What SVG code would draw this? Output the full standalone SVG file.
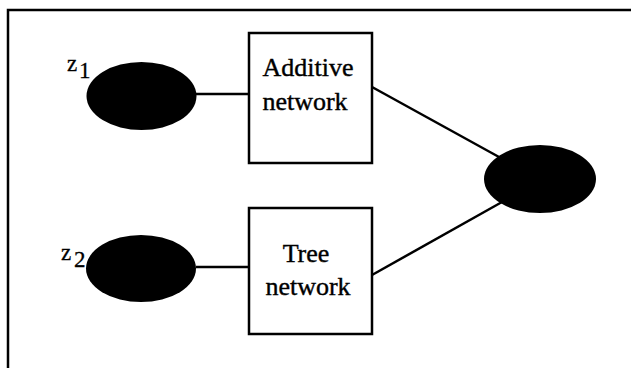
<svg xmlns="http://www.w3.org/2000/svg" width="631" height="368" viewBox="0 0 631 368">
<style>
.frame{fill:none;stroke:#000;stroke-width:2.5}
.box{fill:#fff;stroke:#000;stroke-width:2.5}
.dot{fill:#000}
.lbl{font-family:"Liberation Serif","Times New Roman",serif;font-size:26px;fill:#000;stroke:#000;stroke-width:0.4;text-anchor:middle}
.var{font-family:"Liberation Serif","Times New Roman",serif;font-size:23px;fill:#000;stroke:#000;stroke-width:0.3}
.conn line{stroke:#000;stroke-width:2.5}
</style>
<rect width="631" height="368" fill="#fff"/>
<path class="frame" d="M8,368 V10 H631"/>
<g class="conn">
<line x1="196" y1="94" x2="249" y2="94"/>
<line x1="196" y1="267" x2="249" y2="267"/>
<line x1="372" y1="87" x2="499" y2="157"/>
<line x1="372" y1="275" x2="502" y2="202"/>
</g>
<g id="z1">
<ellipse class="dot" cx="141.5" cy="96" rx="55" ry="34"/>
<text class="var" x="67" y="71">z</text><text class="var" x="79" y="78">1</text>
</g>
<g id="z2">
<ellipse class="dot" cx="141" cy="268.5" rx="55" ry="33.5"/>
<text class="var" x="61" y="260">z</text><text class="var" x="74" y="267">2</text>
</g>
<g id="additive">
<rect class="box" x="249" y="33" width="123" height="130"/>
<text class="lbl" x="308" y="76">Additive</text>
<text class="lbl" x="305" y="110">network</text>
</g>
<g id="tree">
<rect class="box" x="249" y="208" width="123" height="126"/>
<text class="lbl" x="306" y="262">Tree</text>
<text class="lbl" x="308" y="295">network</text>
</g>
<g id="output">
<ellipse class="dot" cx="540" cy="179" rx="56" ry="34"/>
</g>
</svg>
